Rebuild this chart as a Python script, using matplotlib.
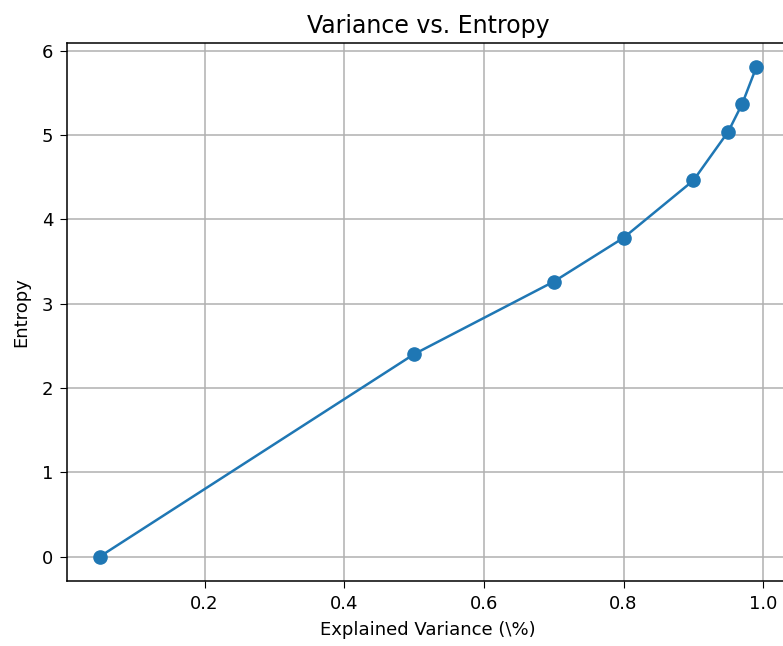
import matplotlib
matplotlib.use("Agg")
import matplotlib.pyplot as plt

variance = [0.05, 0.5, 0.7, 0.8, 0.9, 0.95, 0.97, 0.99]
entropy = [0.0, 2.40, 3.26, 3.78, 4.46, 5.04, 5.37, 5.80]

fig = plt.figure(figsize=(7.83, 6.46), dpi=100)
# right spine is cut off in the reference, so the axes run past the figure edge
ax = fig.add_axes([0.0856, 0.1006, 0.9221, 0.8328])

ax.plot(variance, entropy, marker="o", color="#1f77b4", linewidth=1.8, markersize=9.5)
ax.grid(True, color="#b0b0b0", linewidth=1.1)
ax.set_axisbelow(True)

ax.set_title("Variance vs. Entropy", fontsize=17, pad=7)
ax.set_xlabel("Explained Variance (\\%)", fontsize=13, labelpad=6)
ax.set_ylabel("Entropy", fontsize=13, labelpad=8)
ax.tick_params(labelsize=13, length=5, pad=5)
for s in ax.spines.values():
    s.set_linewidth(1.1)

fig.savefig("out.png", dpi=100)
